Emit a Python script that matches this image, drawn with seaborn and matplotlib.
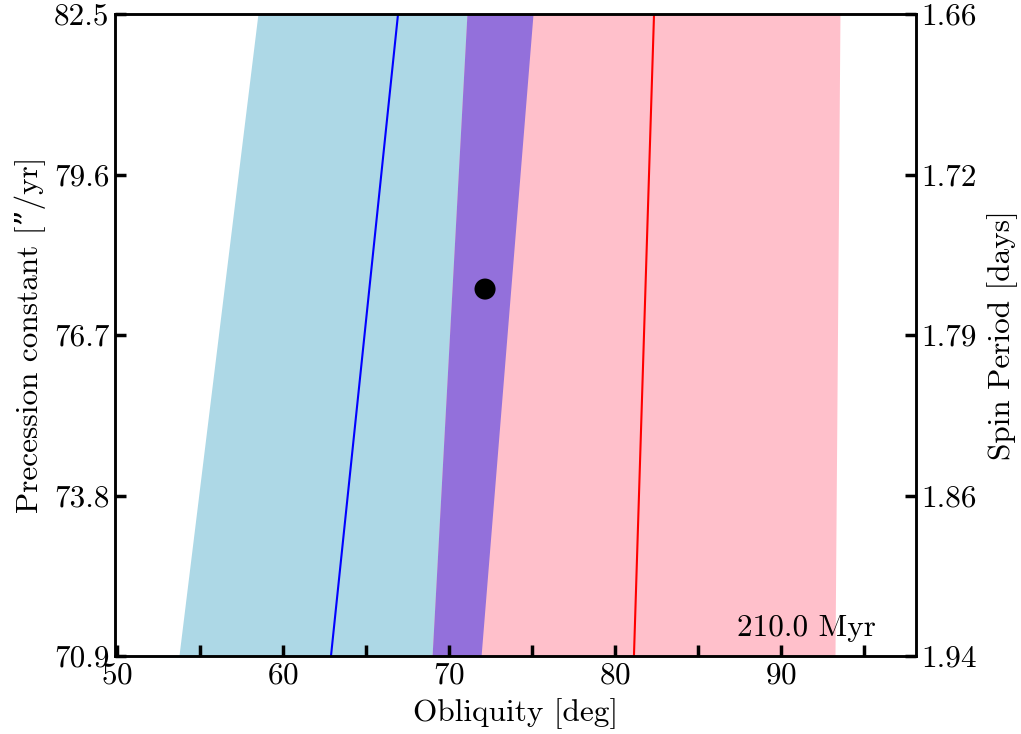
import numpy as np
import pandas as pd
import matplotlib
matplotlib.use("Agg")
import matplotlib.pyplot as plt
import seaborn as sns

# Data
prec_ends = [70.9, 82.5]            # precession constant at bottom / top
blue_left = [53.73, 58.49]
blue_right = [71.93, 75.06]
pink_left = [68.98, 71.08]
pink_right = [93.25, 93.55]
blue_line = [62.89, 66.93]
red_line = [81.14, 82.35]
dot_obl = [72.17]
dot_prec = [77.53]
left_ticks = [70.9, 73.8, 76.7, 79.6, 82.5]
right_labels = ["1.94", "1.86", "1.79", "1.72", "1.66"]
age_label = "210.0 Myr"

sns.set_style("ticks")
plt.rcParams['font.family'] = ['cmr10', 'DejaVu Serif']
plt.rcParams['mathtext.fontset'] = 'cm'
plt.rcParams['axes.formatter.use_mathtext'] = True
plt.rcParams['axes.axisbelow'] = False
plt.rcParams['text.color'] = 'black'
plt.rcParams['axes.labelcolor'] = 'black'

FS = 22.5

fig = plt.figure(figsize=(10.21, 7.34), dpi=100)
ax = fig.add_axes([115/1021, 1-656/734, (916-115)/1021, (656-14)/734])
ax.set_axisbelow(False)

y = np.array(prec_ends)
bl, br = np.array(blue_left), np.array(blue_right)
pl, pr = np.array(pink_left), np.array(pink_right)
ax.fill_betweenx(y, bl, br, color='lightblue', lw=0)
ax.fill_betweenx(y, pl, pr, color='pink', lw=0)
ax.fill_betweenx(y, pl, br, color='mediumpurple', lw=0)

df_b = pd.DataFrame({'x': blue_line, 'y': prec_ends})
df_r = pd.DataFrame({'x': red_line, 'y': prec_ends})
sns.lineplot(data=df_b, x='x', y='y', ax=ax, color='blue', lw=1.5, sort=False, estimator=None)
sns.lineplot(data=df_r, x='x', y='y', ax=ax, color='red', lw=1.5, sort=False, estimator=None)
sns.scatterplot(x=dot_obl, y=dot_prec, ax=ax, color='black', s=230, edgecolor='none', zorder=5)

ax.set_xlim(49.88, 98.13)
ax.set_ylim(prec_ends[0], prec_ends[1])
ax.set_xticks([50, 60, 70, 80, 90])
ax.set_xticks([55, 65, 75, 85, 95], minor=True)
ax.set_yticks(left_ticks)
ax.set_yticklabels([f"{v:.1f}" for v in left_ticks])
ax.tick_params(axis='both', which='both', direction='in', length=8, width=2.5,
               labelsize=FS, pad=4, color='black', labelcolor='black')
ax.tick_params(axis='y', which='both', right=False)
ax.set_xlabel("Obliquity [deg]", fontsize=FS, labelpad=6)
ax.set_ylabel("Precession constant [\u201d/yr]", fontsize=FS, labelpad=6)
for s in ax.spines.values():
    s.set_linewidth(1.8)
    s.set_color('black')

ax2 = ax.twinx()
ax2.set_axisbelow(False)
ax2.set_ylim(ax.get_ylim())
ax2.set_yticks(left_ticks)
ax2.set_yticklabels(right_labels)
ax2.tick_params(axis='y', direction='in', length=8, width=2.5, labelsize=FS, pad=4,
                color='black', labelcolor='black')
ax2.set_ylabel("Spin Period [days]", fontsize=FS, labelpad=7)
for s in ax2.spines.values():
    s.set_linewidth(1.8)
    s.set_color('black')

ax.text(0.95, 0.022, age_label, transform=ax.transAxes, ha='right', va='bottom', fontsize=FS, zorder=6)

fig.savefig("out.png", dpi=100, facecolor='white')
